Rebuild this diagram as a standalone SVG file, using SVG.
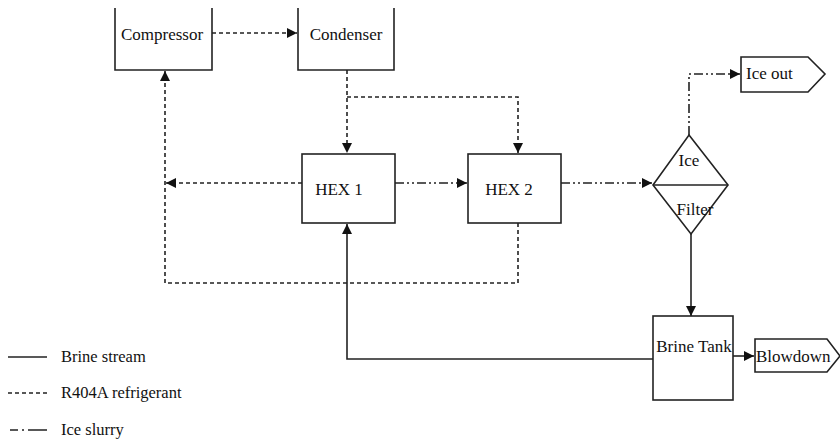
<svg xmlns="http://www.w3.org/2000/svg" width="840" height="441" viewBox="0 0 840 441">
<style>
.box{fill:#fff;stroke:#222;stroke-width:1.6}
.t{font-family:"Liberation Serif",serif;font-size:17px;fill:#111}
.lt{font-family:"Liberation Serif",serif;font-size:16.5px;fill:#111}
.solid{fill:none;stroke:#222;stroke-width:1.6}
.ref{fill:none;stroke:#222;stroke-width:1.6;stroke-dasharray:4 3}
.ice{fill:none;stroke:#222;stroke-width:1.6;stroke-dasharray:9 3 2 3 2 3}
</style>
<defs>
<marker id="ah" viewBox="0 0 10 10" refX="10" refY="5" markerWidth="10" markerHeight="10" markerUnits="userSpaceOnUse" orient="auto">
<path d="M0,0 L10,5 L0,10 Z" fill="#111"/>
</marker>
</defs>
<rect width="840" height="441" fill="#fff"/>
<g id="connectors">
<line class="ref" x1="212" y1="33" x2="297" y2="33" marker-end="url(#ah)"/>
<polyline class="ref" points="347,70 347,153" marker-end="url(#ah)"/>
<polyline class="ref" points="347,97 518,97 518,153" marker-end="url(#ah)"/>
<line class="ref" x1="302" y1="183" x2="166" y2="183" marker-end="url(#ah)"/>
<polyline class="ref" points="518,223 518,283 165,283 165,71" marker-end="url(#ah)"/>
<line class="ice" x1="395" y1="183" x2="467" y2="183" marker-end="url(#ah)"/>
<line class="ice" x1="561" y1="183" x2="652" y2="183" marker-end="url(#ah)"/>
<polyline class="ice" points="689,135 689,74 740,74" marker-end="url(#ah)"/>
<line class="solid" x1="691" y1="234" x2="691" y2="316" marker-end="url(#ah)"/>
<polyline class="solid" points="653,359 347,359 347,224" marker-end="url(#ah)"/>
<line class="solid" x1="733" y1="356" x2="754" y2="356" marker-end="url(#ah)"/>
</g>
<g id="compressor">
<polyline class="box" points="115,8 115,70 212,70 212,8"/>
<text class="t" x="162" y="40" text-anchor="middle">Compressor</text>
</g>
<g id="condenser">
<polyline class="box" points="298,8 298,70 394,70 394,8"/>
<text class="t" x="346" y="40" text-anchor="middle">Condenser</text>
</g>
<g id="hex1">
<rect class="box" x="302" y="154" width="93" height="69"/>
<text class="t" x="339" y="195" text-anchor="middle">HEX 1</text>
</g>
<g id="hex2">
<rect class="box" x="468" y="154" width="93" height="69"/>
<text class="t" x="509" y="195" text-anchor="middle">HEX 2</text>
</g>
<g id="icefilter">
<polygon class="box" points="689,135 728,185 691,234 653,185"/>
<line class="solid" x1="653" y1="185" x2="728" y2="185"/>
<text class="t" x="689" y="166" text-anchor="middle">Ice</text>
<text class="t" x="695" y="215" text-anchor="middle">Filter</text>
</g>
<g id="icetank">
<rect class="box" x="653" y="316" width="80" height="84"/>
<text class="t" x="694" y="352" text-anchor="middle">Brine Tank</text>
</g>
<g id="blowdown">
<polygon class="box" points="755,339 827,339 840,356 827,372 755,372"/>
<text class="t" x="756" y="362">Blowdown</text>
</g>
<g id="iceout">
<polygon class="box" points="741,57 808,57 825,74 808,92 741,92"/>
<text class="t" x="746" y="79">Ice out</text>
</g>
<g id="legend">
<line class="solid" x1="8" y1="357" x2="47" y2="357"/>
<text class="lt" x="61" y="362">Brine stream</text>
<line class="ref" x1="8" y1="393" x2="47" y2="393" stroke-width="1.2"/>
<text class="lt" x="61" y="398">R404A refrigerant</text>
<line fill="none" stroke="#222" stroke-width="1.6" stroke-dasharray="8 4 2 4 12 0" x1="10" y1="430" x2="47" y2="430"/>
<text class="lt" x="61" y="435">Ice slurry</text>
</g>
</svg>
